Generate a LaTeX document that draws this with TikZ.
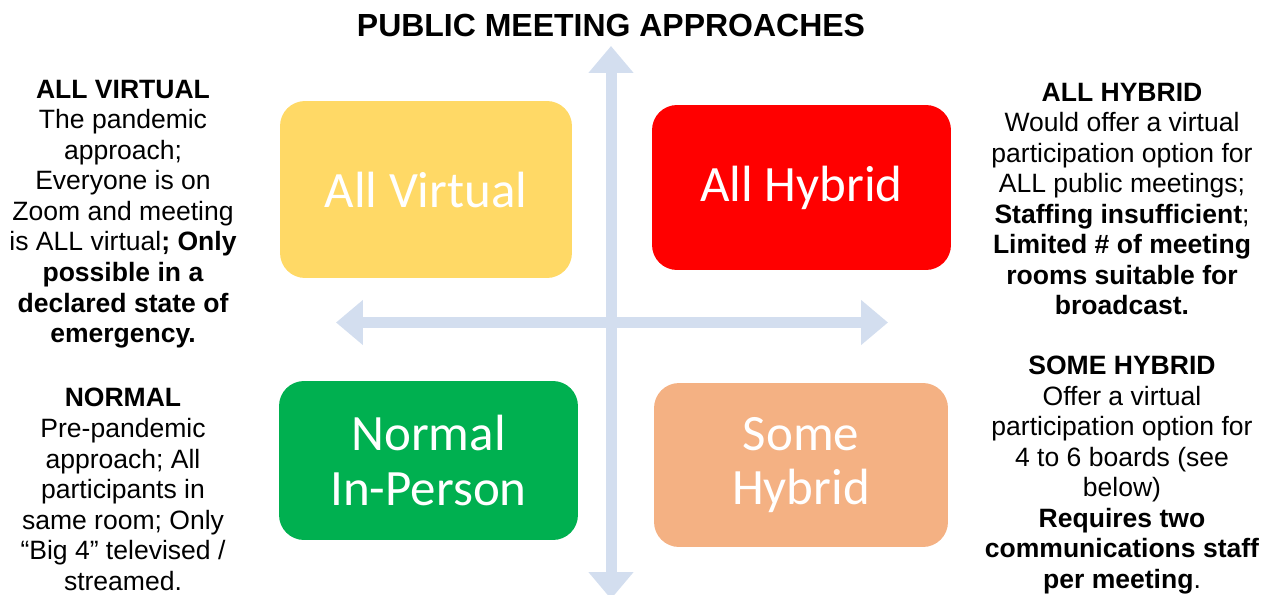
\documentclass[tikz,border=0pt]{standalone}
\usepackage{fontspec}
\setmainfont{Liberation Sans}
\newfontfamily\calibri{Carlito}
\usepackage{xcolor}
\usepackage{tikz}
\usetikzlibrary{arrows.meta}

\definecolor{virtcol}{HTML}{FFD966}
\definecolor{hybcol}{HTML}{FF0000}
\definecolor{normcol}{HTML}{00B050}
\definecolor{somecol}{HTML}{F4B183}
\definecolor{axiscol}{HTML}{D3DEEF}

\begin{document}
\begin{tikzpicture}[x=0.02cm, y=-0.02cm,
    quad/.style={rectangle, rounded corners=0.5cm, text=white, align=center,
        font=\calibri\fontsize{29}{31}\selectfont},
    side/.style={align=center, font=\fontsize{15.1}{17.4}\selectfont},
    axis/.style={line width=0.22cm, axiscol, {Triangle[width=0.87cm,length=0.54cm]}-{Triangle[width=0.87cm,length=0.54cm]}}]
    \useasboundingbox (0,0) rectangle (1275,595);

    % Title
    \node[font=\bfseries\fontsize{18.2}{21}\selectfont] (title) at (611,25) {PUBLIC MEETING APPROACHES};

    % Axes
    \coordinate (top) at (611,46);
    \coordinate (bottom) at (611,599);
    \coordinate (left) at (336,322.5);
    \coordinate (right) at (888,322.5);
    \draw[axis] (top) -- (bottom);
    \draw[axis] (left) -- (right);

    % Quadrants
    \node[quad, fill=virtcol, minimum width=5.84cm, minimum height=3.54cm] (virt) at (426,189.5) {All Virtual};
    \node[quad, fill=hybcol, minimum width=5.98cm, minimum height=3.3cm] (hyb) at (801.5,187.5) {All Hybrid};
    \node[quad, fill=normcol, minimum width=5.98cm, minimum height=3.18cm] (norm) at (428.5,460.5) {Normal\\In-Person};
    \node[quad, fill=somecol, minimum width=5.88cm, minimum height=3.28cm] (some) at (801,465) {Some\\Hybrid};

    % Left notes
    \node[side] (virtnote) at (123,214) {\textbf{ALL VIRTUAL}\\The pandemic\\approach;\\Everyone is on\\Zoom and meeting\\is ALL virtual\textbf{; Only}\\\textbf{possible in a}\\\textbf{declared state of}\\\textbf{emergency.}};
    \node[side] (normnote) at (123,489.5) {\textbf{NORMAL}\\Pre-pandemic\\approach; All\\participants in\\same room; Only\\“Big 4” televised /\\streamed.};

    % Right notes
    \node[side] (hybnote) at (1122,199) {\textbf{ALL HYBRID}\\Would offer a virtual\\participation option for\\ALL public meetings;\\\textbf{Staffing insufficient};\\\textbf{Limited \# of meeting}\\\textbf{rooms suitable for}\\\textbf{broadcast.}};
    \node[side] (somenote) at (1122,475) {\textbf{SOME HYBRID}\\Offer a virtual\\participation option for\\4 to 6 boards (see\\below)\\\textbf{Requires two}\\\textbf{communications staff}\\\textbf{per meeting}.};
\end{tikzpicture}
\end{document}
